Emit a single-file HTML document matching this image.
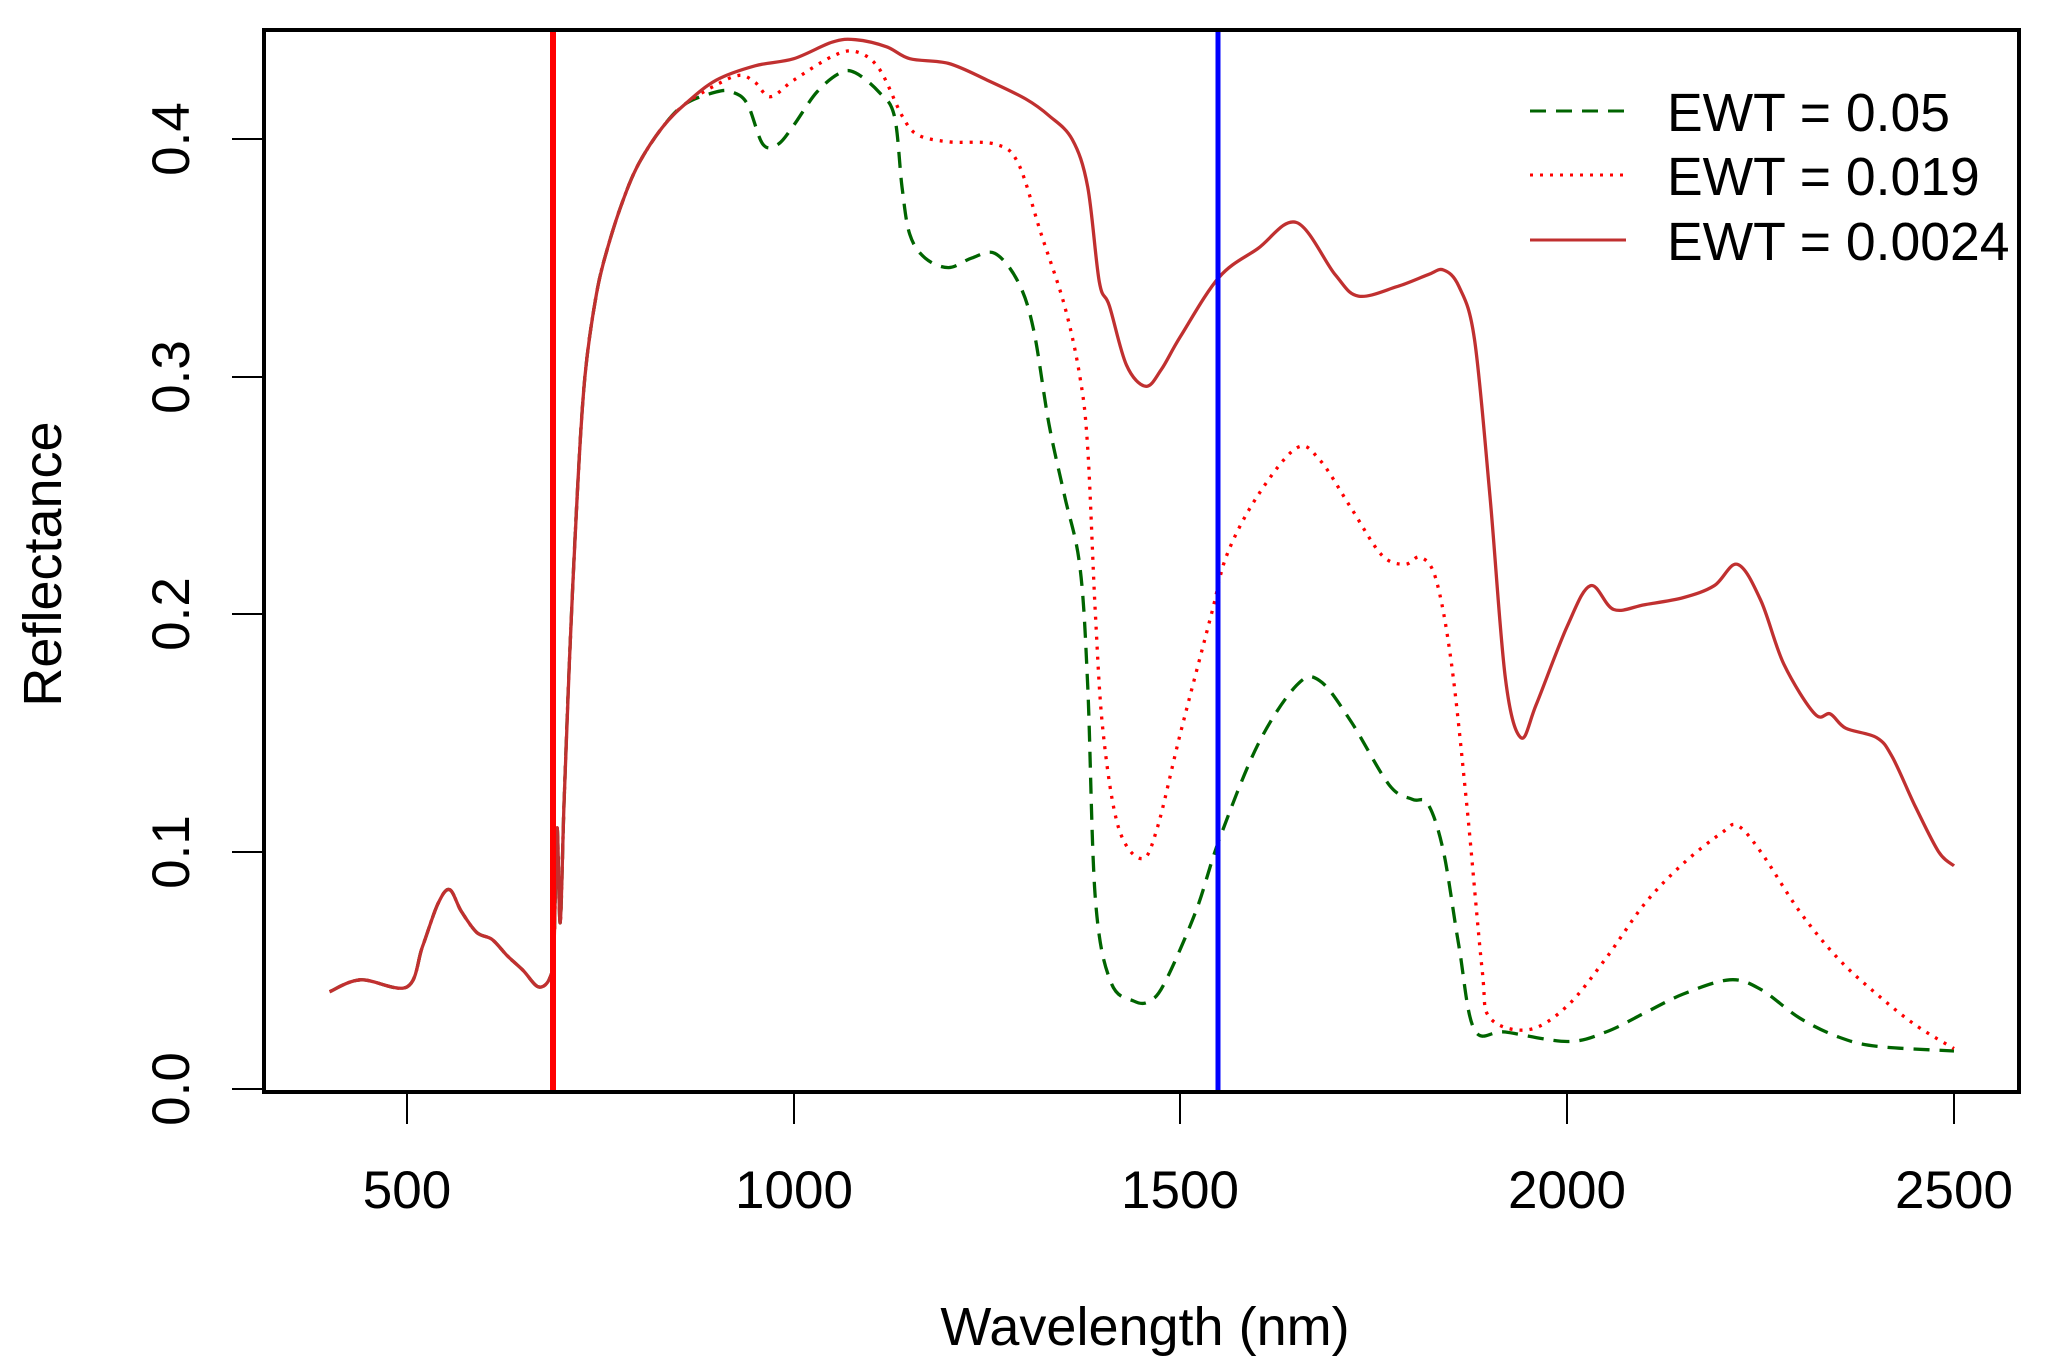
<!DOCTYPE html>
<html><head><meta charset="utf-8"><style>
body{margin:0;background:#fff}
svg{display:block}
text{font-family:"Liberation Sans",Arial,sans-serif;fill:#000}
</style></head><body>
<svg id="s" width="2045" height="1365" viewBox="0 0 2045 1365" xmlns="http://www.w3.org/2000/svg">
<rect width="2045" height="1365" fill="#fff"/>
<g id="curves"></g>
<line x1="553" y1="30" x2="553" y2="1092" stroke="#ff0000" stroke-width="6"/>
<line x1="1218" y1="30" x2="1218" y2="1092" stroke="#0000ff" stroke-width="5"/>
<rect x="264" y="30" width="1755" height="1062" fill="none" stroke="#000" stroke-width="4"/>
<g stroke="#000" stroke-width="2">
<line x1="407" y1="1092" x2="407" y2="1124"/><line x1="794" y1="1092" x2="794" y2="1124"/>
<line x1="1180" y1="1092" x2="1180" y2="1124"/><line x1="1567" y1="1092" x2="1567" y2="1124"/>
<line x1="1954" y1="1092" x2="1954" y2="1124"/>
<line x1="232" y1="1089" x2="264" y2="1089"/><line x1="232" y1="852" x2="264" y2="852"/>
<line x1="232" y1="614" x2="264" y2="614"/><line x1="232" y1="377" x2="264" y2="377"/>
<line x1="232" y1="139" x2="264" y2="139"/>
</g>
<g font-size="53" text-anchor="middle">
<text x="407" y="1208">500</text><text x="794" y="1208">1000</text><text x="1180" y="1208">1500</text>
<text x="1567" y="1208">2000</text><text x="1954" y="1208">2500</text>
<text transform="translate(189,1089) rotate(-90)">0.0</text>
<text transform="translate(189,852) rotate(-90)">0.1</text>
<text transform="translate(189,614) rotate(-90)">0.2</text>
<text transform="translate(189,377) rotate(-90)">0.3</text>
<text transform="translate(189,139) rotate(-90)">0.4</text>
</g>
<g font-size="54" text-anchor="middle">
<text x="1145" y="1345">Wavelength (nm)</text>
<text transform="translate(61,564) rotate(-90)">Reflectance</text>
</g>
<g stroke-width="3">
<line x1="1530" y1="111" x2="1626" y2="111" stroke="#006400" stroke-dasharray="16,10"/>
<line x1="1530" y1="175" x2="1626" y2="175" stroke="#ff0000" stroke-dasharray="3,7"/>
<line x1="1530" y1="240" x2="1626" y2="240" stroke="#c03030"/>
</g>
<g font-size="53.5">
<text x="1667" y="131">EWT = 0.05</text>
<text x="1667" y="195">EWT = 0.019</text>
<text x="1667" y="260">EWT = 0.0024</text>
</g>
</svg>
<script>
var base=[[400,.041],[440,.046],[500,.043],[520,.06],[540,.078],[555,.084],[570,.075],[590,.066],[610,.063],[630,.056],[650,.05],[670,.043],[685,.047],[690,.06],[694,.11],[698,.07],[703,.12],[710,.18],[720,.25],[730,.3],[745,.335],[760,.355],[780,.375],[800,.39],[830,.405],[860,.415]];
var solid=base.concat([[900,.425],[950,.431],[1000,.434],[1050,.441],[1080,.442],[1120,.439],[1150,.434],[1200,.432],[1250,.425],[1300,.417],[1330,.41],[1360,.4],[1380,.38],[1395,.34],[1408,.33],[1430,.305],[1455,.296],[1475,.303],[1500,.317],[1550,.342],[1600,.354],[1650,.365],[1700,.343],[1730,.334],[1780,.338],[1820,.343],[1840,.345],[1860,.338],[1880,.316],[1900,.25],[1920,.173],[1940,.148],[1960,.162],[2000,.195],[2030,.212],[2060,.202],[2100,.204],[2150,.207],[2190,.212],[2220,.221],[2250,.206],[2280,.179],[2320,.158],[2340,.158],[2360,.152],[2400,.148],[2420,.14],[2450,.119],[2480,.1],[2500,.094]]);
var dot=base.concat([[900,.423],[930,.427],[950,.424],[970,.418],[1000,.425],[1050,.435],[1080,.437],[1110,.43],[1140,.41],[1160,.402],[1200,.399],[1260,.398],[1290,.39],[1320,.36],[1350,.33],[1370,.3],[1380,.27],[1390,.2],[1400,.15],[1420,.11],[1450,.097],[1470,.11],[1500,.15],[1540,.2],[1560,.225],[1600,.25],[1650,.27],[1680,.265],[1720,.245],[1760,.225],[1790,.221],[1810,.224],[1830,.215],[1850,.18],[1870,.12],[1890,.05],[1900,.03],[1950,.025],[2000,.035],[2050,.055],[2100,.078],[2150,.095],[2200,.108],[2220,.111],[2250,.1],[2300,.075],[2350,.055],[2400,.04],[2450,.027],[2500,.017]]);
var dash=base.concat([[900,.42],[920,.42],[940,.415],[960,.398],[980,.398],[1000,.406],[1030,.42],[1060,.428],[1080,.428],[1110,.42],[1130,.41],[1140,.38],[1150,.36],[1170,.35],[1200,.346],[1230,.35],[1260,.352],[1290,.34],[1310,.32],[1330,.28],[1350,.25],[1370,.22],[1380,.17],[1390,.08],[1410,.045],[1440,.037],[1460,.037],[1480,.045],[1520,.075],[1550,.105],[1600,.145],[1650,.17],[1680,.172],[1720,.155],[1770,.128],[1800,.122],[1820,.12],[1840,.1],[1860,.06],[1880,.025],[1920,.024],[2000,.02],[2050,.024],[2100,.032],[2150,.04],[2210,.046],[2250,.042],[2300,.03],[2350,.022],[2400,.018],[2500,.016]]);
function X(w){return 407+(w-500)*0.7735}function Y(r){return 1089-r*2374}
function P(d){var pts=d.map(function(p){return [X(p[0]),Y(p[1])]});var s="M"+pts[0][0].toFixed(1)+","+pts[0][1].toFixed(1);
for(var i=0;i<pts.length-1;i++){var p0=pts[Math.max(0,i-1)],p1=pts[i],p2=pts[i+1],p3=pts[Math.min(pts.length-1,i+2)];
var t=0.5/3;var c1=[p1[0]+(p2[0]-p0[0])*t,p1[1]+(p2[1]-p0[1])*t],c2=[p2[0]-(p3[0]-p1[0])*t,p2[1]-(p3[1]-p1[1])*t];
s+="C"+c1[0].toFixed(1)+","+c1[1].toFixed(1)+" "+c2[0].toFixed(1)+","+c2[1].toFixed(1)+" "+p2[0].toFixed(1)+","+p2[1].toFixed(1);}return s;}
var g=document.getElementById("curves"),ns="http://www.w3.org/2000/svg";
[[dash,"#006400","16,10"],[dot,"#ff0000","3,7"],[solid,"#c03030",""]].forEach(function(c){var e=document.createElementNS(ns,"path");e.setAttribute("d",P(c[0]));e.setAttribute("fill","none");e.setAttribute("stroke",c[1]);e.setAttribute("stroke-width","3.3");e.setAttribute("stroke-linejoin","round");if(c[2])e.setAttribute("stroke-dasharray",c[2]);g.appendChild(e);});
</script>
</body></html>
